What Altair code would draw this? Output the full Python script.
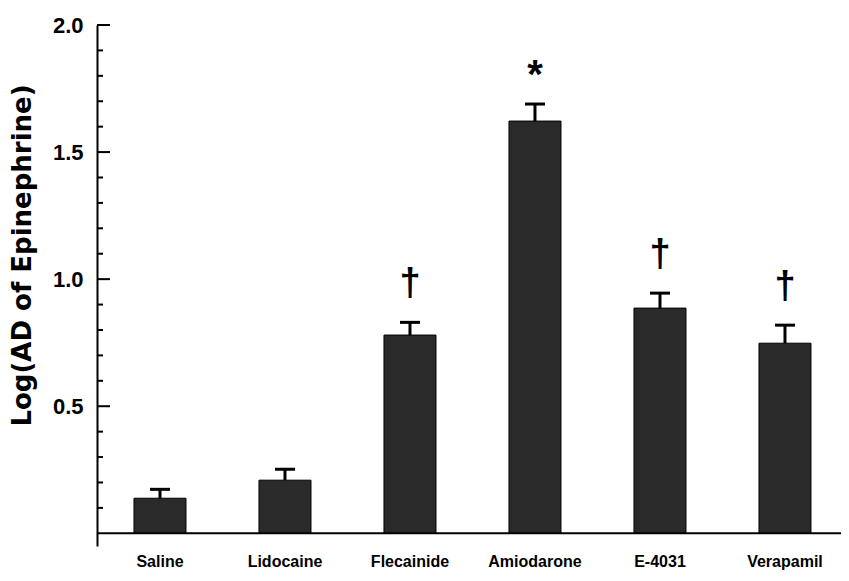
import altair as alt
import pandas as pd

drugs = ["Saline", "Lidocaine", "Flecainide", "Amiodarone", "E-4031", "Verapamil"]
means = [0.138, 0.209, 0.78, 1.622, 0.886, 0.748]
sems = [0.035, 0.043, 0.05, 0.067, 0.059, 0.071]
marks = ["", "", "†", "*", "†", "†"]
major_ticks = [0.5, 1.0, 1.5, 2.0]
minor_ticks = [0.1, 0.2, 0.3, 0.4, 0.6, 0.7, 0.8, 0.9, 1.1, 1.2, 1.3, 1.4, 1.6, 1.7, 1.8, 1.9]

df = pd.DataFrame({"drug": drugs, "mean": means, "sem": sems, "mark": marks})
df["top"] = df["mean"] + df["sem"]

FONT = "Liberation Sans"
yscale = alt.Scale(domain=[-0.05, 2.0], nice=False, zero=False)
yaxis = alt.Axis(
    values=major_ticks, format=".1f", ticks=False, grid=False,
    domainWidth=2, domainColor="black",
    labelFont=FONT, labelFontSize=22, labelFontWeight="bold",
    labelColor="black", labelPadding=14,
    title="Log(AD of Epinephrine)", titleX=-75, titleY=230,
    titleAngle=270, titleAlign="center", titleBaseline="middle",
    titleFont="DejaVu Sans", titleFontSize=26, titleFontWeight="bold",
    titleColor="black",
)
xenc = alt.X(
    "drug:N",
    sort=drugs,
    scale=alt.Scale(paddingInner=0.584, paddingOuter=0.252, align=0.587),
    axis=alt.Axis(
        title=None, labelAngle=0, domain=False, ticks=False,
        labelFont=FONT, labelFontSize=16, labelFontWeight="bold",
        labelColor="black", labelPadding=7,
    ),
)

base = alt.Chart(df)

bars = base.mark_bar(color="#2a2a2a", stroke="black", strokeWidth=1).encode(
    x=xenc,
    y=alt.Y("mean:Q", scale=yscale, axis=yaxis),
)

stems = base.mark_rule(color="black", strokeWidth=3).encode(
    x=xenc,
    y=alt.Y("mean:Q", scale=yscale, axis=yaxis),
    y2="top:Q",
)

caps = base.mark_tick(color="black", thickness=3, size=20, opacity=1).encode(
    x=xenc,
    y=alt.Y("top:Q", scale=yscale, axis=yaxis),
)

daggers = base.transform_filter(alt.datum.mark == "†").mark_text(
    font=FONT, fontSize=38, fontWeight="bold", baseline="alphabetic", dy=-27, color="black"
).encode(
    x=xenc,
    y=alt.Y("top:Q", scale=yscale, axis=yaxis),
    text="mark:N",
)

stars = base.transform_filter(alt.datum.mark == "*").mark_text(
    font=FONT, fontSize=40, fontWeight="bold", baseline="alphabetic", dy=-16, color="black"
).encode(
    x=xenc,
    y=alt.Y("top:Q", scale=yscale, axis=yaxis),
    text="mark:N",
)

major = alt.Chart(pd.DataFrame({"v": major_ticks})).mark_rule(color="black", strokeWidth=2).encode(
    y=alt.Y("v:Q", scale=yscale, axis=yaxis), x=alt.value(0), x2=alt.value(13)
)
minor = alt.Chart(pd.DataFrame({"v": minor_ticks})).mark_rule(color="black", strokeWidth=2).encode(
    y=alt.Y("v:Q", scale=yscale, axis=yaxis), x=alt.value(0), x2=alt.value(6)
)
baseline = alt.Chart(pd.DataFrame({"v": [0.0]})).mark_rule(color="black", strokeWidth=2).encode(
    y=alt.Y("v:Q", scale=yscale, axis=yaxis), x=alt.value(0), x2=alt.value(744)
)

chart = alt.layer(bars, baseline, stems, caps, daggers, stars, major, minor).properties(
    width=740,
    height=521,
    padding={"left": 89, "top": 17, "right": 4, "bottom": 24},
    autosize=alt.AutoSizeParams(type="none"),
    background="white",
).configure_view(stroke=None)

chart.save("out.html", embed_options={"renderer": "svg", "actions": False})
